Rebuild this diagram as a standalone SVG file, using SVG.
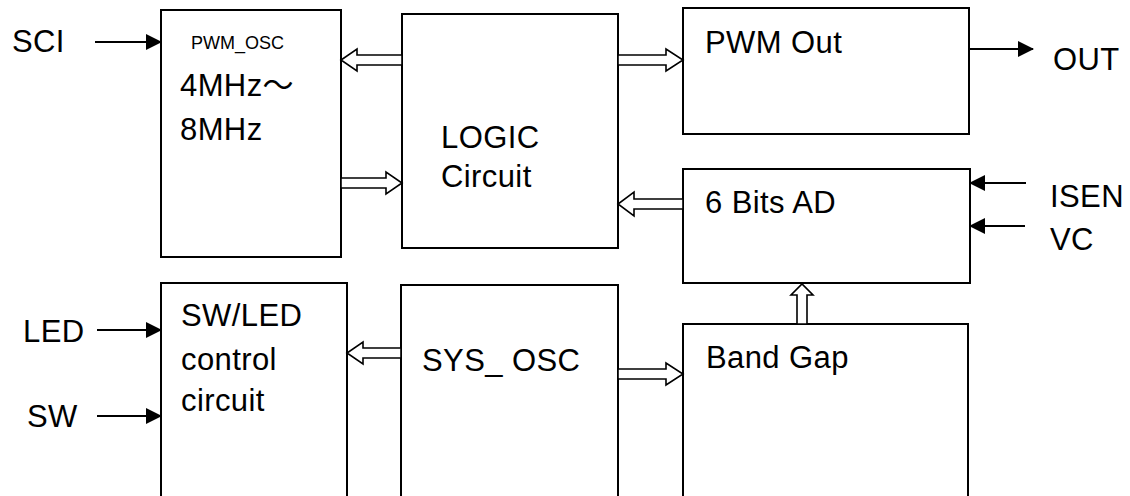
<svg xmlns="http://www.w3.org/2000/svg" width="1130" height="496" viewBox="0 0 1130 496">
<style>
.box{fill:#fff;stroke:#000;stroke-width:2}
.t{font-family:"Liberation Sans",Arial,sans-serif;font-size:31px;letter-spacing:0.4px;fill:#000}
.s{font-family:"Liberation Sans",Arial,sans-serif;font-size:18px;fill:#000}
.hollow{fill:#fff;stroke:#000;stroke-width:1.6;stroke-linejoin:miter}
.line{stroke:#000;stroke-width:2.2;fill:none}
</style>
<defs>
<marker id="ah" markerUnits="userSpaceOnUse" markerWidth="16" markerHeight="16" refX="15" refY="8" orient="auto">
<path d="M0,0 L16,8 L0,16 Z" fill="#000"/>
</marker>
</defs>
<rect width="1130" height="496" fill="#fff"/>
<g id="pwm_osc">
<rect class="box" x="161" y="10" width="180" height="247"/>
<text class="s" x="191" y="49">PWM_OSC</text>
<text class="t" x="180" y="96">4MHz<tspan font-family="'Noto Sans CJK SC',sans-serif">～</tspan></text>
<text class="t" x="180" y="140">8MHz</text>
</g>
<g id="logic">
<rect class="box" x="402" y="14" width="216" height="234"/>
<text class="t" x="441" y="148">LOGIC</text>
<text class="t" x="441" y="187">Circuit</text>
</g>
<g id="pwm_out">
<rect class="box" x="683" y="8" width="286" height="126"/>
<text class="t" x="705" y="53">PWM Out</text>
</g>
<g id="ad">
<rect class="box" x="683" y="169" width="287" height="114"/>
<text class="t" x="705" y="213">6 Bits AD</text>
</g>
<g id="swled">
<rect class="box" x="161" y="283" width="186" height="230"/>
<text class="t" x="181" y="326">SW/LED</text>
<text class="t" x="181" y="370">control</text>
<text class="t" x="181" y="411">circuit</text>
</g>
<g id="sys_osc">
<rect class="box" x="401" y="285" width="217" height="230"/>
<text class="t" x="422" y="371">SYS_ OSC</text>
</g>
<g id="bandgap">
<rect class="box" x="683" y="324" width="285" height="200"/>
<text class="t" x="706" y="368">Band Gap</text>
</g>
<g id="labels">
<text class="t" x="12" y="52">SCI</text>
<text class="t" x="1053" y="70">OUT</text>
<text class="t" x="1050" y="207">ISEN</text>
<text class="t" x="1050" y="250">VC</text>
<text class="t" x="23" y="342">LED</text>
<text class="t" x="27" y="427">SW</text>
</g>
<g id="connectors">
<line class="line" x1="95" y1="42" x2="161" y2="42" marker-end="url(#ah)"/>
<line class="line" x1="969" y1="49" x2="1033" y2="49" marker-end="url(#ah)"/>
<line class="line" x1="1026" y1="183" x2="970" y2="183" marker-end="url(#ah)"/>
<line class="line" x1="1025" y1="226" x2="970" y2="226" marker-end="url(#ah)"/>
<line class="line" x1="97" y1="330" x2="161" y2="330" marker-end="url(#ah)"/>
<line class="line" x1="97" y1="416" x2="161" y2="416" marker-end="url(#ah)"/>
<path class="hollow" d="M402 55 H357 V49 L341 60 L357 71 V65 H402 Z"/>
<path class="hollow" d="M341 178 H386 V172 L402 183 L386 194 V188 H341 Z"/>
<path class="hollow" d="M618 55 H666 V49 L683 60 L666 71 V65 H618 Z"/>
<path class="hollow" d="M683 199 H634 V192 L618 204 L634 216 V209 H683 Z"/>
<path class="hollow" d="M401 348 H363 V342 L347 353 L363 364 V358 H401 Z"/>
<path class="hollow" d="M618 369 H666 V363 L683 374 L666 385 V379 H618 Z"/>
<path class="hollow" d="M797 324 V295 H791 L802 284 L813 295 H807 V324 Z"/>
</g>
</svg>
